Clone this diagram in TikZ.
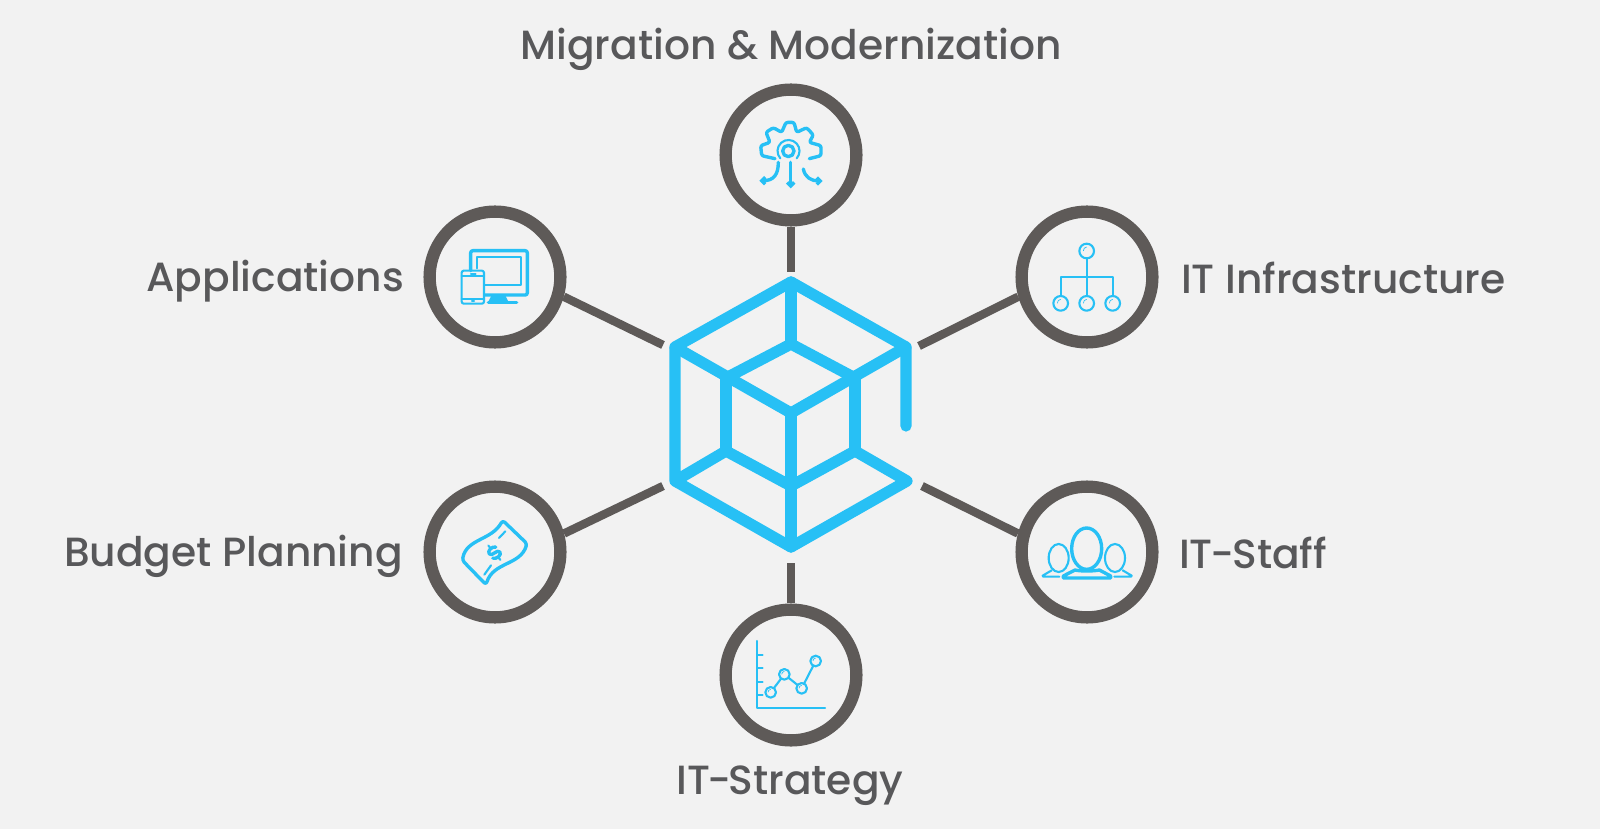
\documentclass[tikz,border=0pt]{standalone}
\usepackage{fontspec}
\setmainfont{Poppins Medium}
\usepackage{xcolor}
\usetikzlibrary{arrows.meta}
\definecolor{pagebg}{HTML}{F2F2F2}
\definecolor{ringgray}{HTML}{5E5A58}
\definecolor{textgray}{HTML}{58585A}
\definecolor{skyblue}{HTML}{27C0F5}
\tikzset{ring/.style={circle,draw=ringgray,line width=17.5pt,minimum size=186pt,inner sep=0pt},
link/.style={draw=ringgray,line width=12pt},
cube/.style={draw=skyblue,line width=16pt,line cap=round,line join=round},
icon/.style={draw=skyblue,line width=4.8pt,line cap=round,line join=round},
thinicon/.style={draw=skyblue,line width=3pt,line cap=round,line join=round},
tag/.style={inner sep=0pt,text=textgray,font=\fontsize{58}{68}\selectfont}}
\begin{document}
\begin{tikzpicture}[x=.05cm,y=-.05cm]
\useasboundingbox[fill=pagebg] (0,0) rectangle (1600,829);
% rings
\node[ring] (migr) at (791,155) {};
\node[ring] (appl) at (495,277) {};
\node[ring] (infra) at (1087,277) {};
\node[ring] (budget) at (495,552) {};
\node[ring] (staff) at (1087,552) {};
\node[ring] (strat) at (791,675) {};
% free ends near the cube
\coordinate (migrend) at (791,272);
\coordinate (applend) at (663,345);
\coordinate (infraend) at (919,346);
\coordinate (budgetend) at (663,486);
\coordinate (staffend) at (922,486);
\coordinate (stratend) at (791,563);
\draw[link] (migr) -- (migrend);
\draw[link] (strat) -- (stratend);
\draw[link] (appl.-16) -- (applend);
\draw[link] (infra.196) -- (infraend);
\draw[link] (budget.15) -- (budgetend);
\draw[link] (staff.165) -- (staffend);
% cube
\draw[cube] (906,426)--(906,347)--(791,282)--(675,347)--(675,481)--(791,547)--(907,481)--(855,451)--(791,486)--(726,451)--(675,481);
\draw[cube] (675,347)--(791,413)--(906,347);
\draw[cube] (726,378)--(791,344)--(855,378);
\draw[cube] (791,282)--(791,344);
\draw[cube] (726,378)--(726,451);
\draw[cube] (855,378)--(855,451);
\draw[cube] (791,413)--(791,547);
% labels
\node[tag,anchor=base] (migrtag) at (791,60) {Migration \& Modernization};
\node[tag,anchor=base east] (appltag) at (404,291) {Applications};
\node[tag,anchor=base east] (budgettag) at (403,566) {Budget Planning};
\node[tag,anchor=base west] (infratag) at (1181,293) {IT Infrastructure};
\node[tag,anchor=base west] (stafftag) at (1179,568) {IT\kern-3pt-\kern-3pt Staff};
\node[tag,anchor=base] (strattag) at (790,794) {IT\kern-4pt-\kern-4pt Strategy};
% gear
\begin{scope}[shift={(720,85)},scale=1/3]
\draw[icon,rounded corners=3pt] (165,221)--(125,212)--(122,182)--(150,172)--(138,142)--(160,128)--(185,142)--(198,112)--(222,112)--(230,142)--(260,128)--(280,150)--(268,172)--(303,182)--(303,212)--(268,221);
\draw[icon] (205,198) circle (17);
\draw[thinicon] (181,220) arc (138:402:33);
\draw[icon,-{Straight Barb[length=5pt,width=10pt]}] (212,232)--(212,310);
\draw[icon,-{Straight Barb[length=5pt,width=10pt]}] (175,232) .. controls (175,270) and (160,287) .. (118,287);
\draw[icon,-{Straight Barb[length=5pt,width=10pt]}] (250,252) .. controls (255,278) and (275,288) .. (308,288);
\end{scope}
% screens
\begin{scope}[shift={(425,205)},scale=1/3]
\draw[icon,rounded corners=3pt] (137,197)--(137,137)--(307,137)--(307,270)--(180,270);
\draw[thinicon] (157,190)--(157,157)--(287,157)--(287,240)--(180,240);
\fill[skyblue] (200,270)--(240,270)--(250,290)--(190,290)--cycle;
\draw[icon] (190,293)--(275,293);
\draw[thinicon,rounded corners=3pt] (110,197) rectangle (177,296);
\draw[thinicon] (110,212)--(177,212) (110,282)--(177,282) (138,206)--(152,206) (141,288)--(147,288);
\end{scope}
% hierarchy
\begin{scope}[shift={(1020,205)},scale=1/3]
\draw[thinicon] (200,160)--(200,273) (122,273)--(122,215)--(278,215)--(278,273);
\foreach \cx/\cy in {200/138,122/295,200/295,278/295} {
\draw[thinicon] (\cx,\cy) circle (22);
\draw[draw=skyblue,line width=1pt] (\cx-10,\cy+0) .. controls (\cx-10,\cy-7) and (\cx-6,\cy-11) .. (\cx,\cy-12);}
\end{scope}
% bill
\begin{scope}[shift={(425,482)},scale=1/3]
\draw[icon,rounded corners=4pt] (233,115) .. controls (200,175) and (125,170) .. (112,235)--(183,308) .. controls (205,240) and (285,250) .. (306,185)--cycle;
\draw[thinicon] (241,148)--(222,168) (198,250)--(178,278);
\begin{scope}[shift={(208,212)},rotate=40]
\draw[icon] (14,-10) .. controls (8,-20) and (-14,-18) .. (-14,-7) .. controls (-14,6) and (14,-4) .. (14,9) .. controls (14,20) and (-8,20) .. (-14,10);
\draw[thinicon] (0,-28)--(0,-20) (0,20)--(0,28);
\end{scope}
\end{scope}
% people
\begin{scope}[shift={(1020,482)},scale=1/3]
\draw[icon] (200,200) ellipse (45 and 62);
\draw[thinicon] (116,228) ellipse (30 and 42) (285,228) ellipse (30 and 42);
\draw[icon] (130,282)--(165,264) .. controls (180,268) and (220,268) .. (238,264)--(272,282)--(272,288)--(130,288)--cycle;
\draw[thinicon] (95,265)--(68,281)--(70,284)--(118,284) (308,265)--(335,281)--(333,284)--(283,284);
\end{scope}
% chart
\begin{scope}[shift={(720,605)},scale=1/3]
\draw[thinicon] (112,108)--(112,310)--(315,310);
\foreach \ty in {150,190,230,270} {\draw[thinicon] (112,\ty)--(128,\ty);}
\draw[thinicon] (152,262)--(193,208)--(245,250)--(287,168);
\foreach \cx/\cy in {152/262,193/208,245/250,287/168} {
\draw[thinicon,fill=pagebg] (\cx,\cy) circle (16);
\draw[draw=skyblue,line width=1pt] (\cx-8,\cy) .. controls (\cx-8,\cy-5) and (\cx-5,\cy-8) .. (\cx,\cy-9);}
\end{scope}
\end{tikzpicture}
\end{document}
